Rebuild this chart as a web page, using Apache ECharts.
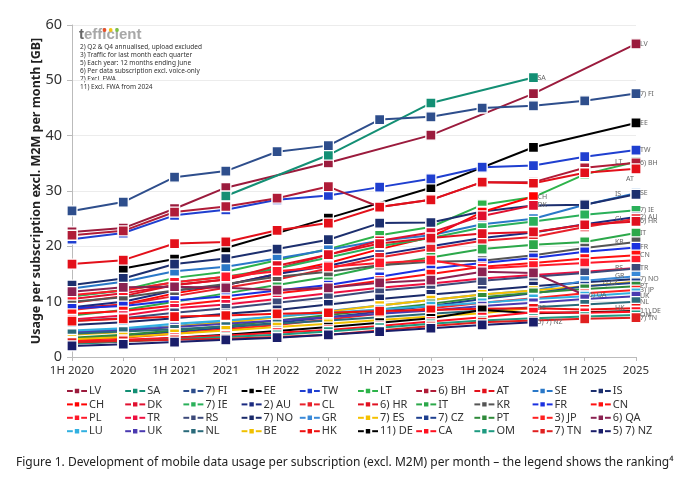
<!DOCTYPE html>
<html>
<head>
<meta charset="utf-8">
<script src="https://cdn.jsdelivr.net/npm/echarts@6/dist/echarts.min.js"></script>
<style>
  html, body { margin: 0; padding: 0; background: #fff; }
  #main { width: 680px; height: 487px; }
</style>
</head>
<body>
<div id="main"></div>
<script>
var myChart = echarts.init(document.getElementById('main'));

// periods on the x axis
var periods = ['1H 2020', '2020', '1H 2021', '2021', '1H 2022', '2022', '1H 2023', '2023', '1H 2024', '2024', '1H 2025', '2025'];

// GB per subscription per month (null = no value)
var LV = [22.6, 23.3, 26.8, 30.6, null, 35.1, null, 40.1, null, 47.6, null, 56.6];
var SA = [null, null, null, 29.1, null, 36.5, null, 45.9, null, 50.5];
var FI = [26.4, 28.0, 32.5, 33.6, 37.1, 38.2, 42.9, 43.4, 45.0, 45.4, 46.3, 47.6];
var EE = [null, 16.0, 17.7, 19.7, null, 25.1, null, 30.6, null, 37.9, null, 42.3];
var TW = [21.3, 22.4, 25.6, 26.6, 28.4, 29.2, 30.7, 32.2, 34.3, 34.6, 36.2, 37.4];
var LT = [11.0, 12.1, 14.3, 15.4, 17.5, 19.5, 22.0, 23.5, 27.5, 28.9, 33.0, 35.3];
var BH = [22.0, 22.8, 26.2, 27.2, 28.7, 30.8, 27.1, 28.4, 31.6, 31.6, 34.2, 35.1];
var AT = [16.8, 17.5, 20.5, 20.8, 22.9, 24.2, 27.1, 28.4, 31.6, 31.4, 33.3, 34.0];
var SE = [12.4, 13.6, 15.5, 16.3, 17.8, 19.4, 21.0, 22.0, 24.0, 25.0, 27.5, 29.6];
var IS = [13.0, 14.2, 16.8, 17.8, 19.5, 21.2, 24.2, 24.3, 26.3, 27.4, 27.5, 29.4];
var CH = [8.8, 9.5, 11.5, 13.0, 15.0, 17.0, 19.5, 21.7, 26.2, 29.0];
var DK = [10.5, 11.5, 13.0, 14.0, 16.0, 18.5, 21.0, 22.5, 25.5, 27.4];
var IE = [11.0, 12.0, 13.5, 14.5, 16.0, 18.0, 20.0, 21.5, 23.4, 24.5, 25.7, 26.5];
var AU = [9.0, 10.0, 12.0, 13.0, 15.0, 16.5, 18.5, 20.0, 21.5, 22.5, 24.0, 25.3];
var CL = [8.5, 9.5, 11.0, 12.5, 14.0, 16.0, 18.0, 19.5, 21.0, 21.7, 23.5, 25.0];
var HR = [9.8, 11.0, 13.0, 14.0, 16.5, 18.5, 20.5, 21.5, 22.3, 22.6, 23.9, 24.5];
var IT = [7.5, 8.5, 10.0, 11.5, 13.0, 14.5, 16.5, 18.0, 19.5, 20.3, 20.8, 22.4];
var KR = [10.0, 10.8, 12.0, 13.2, 14.5, 15.4, 16.6, 17.2, 17.4, 18.4, 19.7, 20.8];
var FR = [8.8, 9.2, 10.2, 11.0, 12.0, 13.0, 14.5, 16.0, 17.0, 17.9, 19.0, 19.8];
var CN = [7.8, 8.3, 9.3, 10.3, 11.5, 12.5, 13.8, 15.0, 16.3, 17.0, 17.8, 18.4];
var PL = [11.2, 12.0, 13.5, 14.5, 15.5, 16.3, 17.0, 17.5, 16.0, 16.5, 17.0, 17.5];
var TR = [6.8, 7.5, 8.8, 9.5, 10.5, 11.5, 12.5, 13.3, 14.2, 14.8, 15.4, 16.1];
var RS = [6.5, 7.0, 8.0, 8.8, 9.8, 10.8, 12.0, 12.8, 13.8, 14.5, 15.2, 16.0];
var NO = [5.8, 6.3, 7.0, 7.8, 8.5, 9.5, 10.5, 11.3, 12.0, 12.8, 13.5, 14.1];
var GR = [4.5, 5.0, 5.6, 6.4, 7.3, 8.3, 9.3, 10.3, 11.3, 12.0, 13.8, 14.6];
var ES = [4.0, 4.5, 5.5, 6.2, 7.2, 8.2, 9.3, 10.3, 11.3, 12.0, 12.8, 13.6];
var CZ = [3.3, 3.8, 4.5, 5.3, 6.2, 7.2, 8.2, 9.2, 10.5, 11.5, 12.8, 13.4];
var PT = [3.5, 4.0, 4.8, 5.6, 6.6, 7.6, 8.6, 9.6, 10.8, 11.6, 12.3, 12.8];
var JP = [3.0, 3.5, 4.2, 5.0, 5.8, 6.8, 7.8, 8.8, 9.8, 10.6, 11.5, 12.1];
var QA = [11.8, 12.6, 12.7, 12.5, 12.1, 12.5, 13.4, 13.9, 15.4, 15.2, 11.2];
var LU = [4.8, 5.2, 6.0, 6.6, 7.3, 8.0, 8.6, 9.2, 9.8, 10.5, 11.0, 11.6];
var UK = [4.4, 4.8, 5.4, 6.0, 6.6, 7.2, 7.8, 8.4, 9.2, 9.8, 10.5, 11.0];
var NL = [4.2, 4.6, 5.0, 5.5, 6.0, 6.6, 7.2, 7.8, 8.4, 9.0, 9.5, 10.0];
var BE = [3.2, 3.6, 4.2, 4.8, 5.4, 6.0, 6.7, 7.3, 7.9, 8.9];
var HK = [6.5, 6.9, 7.3, 7.5, 7.8, 8.0, 8.3, 8.5, 8.7, 8.8, 8.6, 8.8];
var DE = [2.5, 2.8, 3.5, 4.0, 4.7, 5.4, 6.2, 7.0, 8.5, 7.9, 8.1, 8.3];
var CA = [2.8, 3.1, 3.5, 3.9, 4.4, 4.9, 5.6, 6.4, 7.2, 8.1, 8.0, 8.2];
var OM = [2.4, 2.8, 3.2, 3.6, 4.0, 4.6, 5.3, 6.0, 6.6, 7.0, 7.3, 7.6];
var TN = [2.6, 2.9, 3.1, 3.3, 3.6, 4.0, 4.8, 5.6, 6.3, 6.6, 6.9, 7.1];
var NZ = [2.0, 2.3, 2.7, 3.1, 3.5, 4.0, 4.6, 5.2, 5.8, 6.3];

// legend order = ranking
var countries = [
  ['LV', LV, '#9b1b3d'], ['SA', SA, '#138f74'], ['7) FI', FI, '#2e4e8c'], ['EE', EE, '#000000'], ['TW', TW, '#1f3fd0'],
  ['LT', LT, '#2db34a'], ['6) BH', BH, '#b01c38'], ['AT', AT, '#e3101a'], ['SE', SE, '#2a78c8'], ['IS', IS, '#1c2f6e'],
  ['CH', CH, '#ff0000'], ['DK', DK, '#e0102f'], ['7) IE', IE, '#2ab05a'], ['2) AU', AU, '#1a2a80'], ['CL', CL, '#e8202a'],
  ['6) HR', HR, '#e01020'], ['IT', IT, '#2ca84a'], ['KR', KR, '#555555'], ['FR', FR, '#1a30e0'], ['CN', CN, '#ff1010'],
  ['PL', PL, '#ff1a2a'], ['TR', TR, '#ee1040'], ['RS', RS, '#3d4a7a'], ['7) NO', NO, '#1a2a6a'], ['GR', GR, '#3a8ad8'],
  ['7) ES', ES, '#f5c000'], ['7) CZ', CZ, '#1e3f8f'], ['PT', PT, '#2f8a3a'], ['3) JP', JP, '#ff2020'], ['6) QA', QA, '#8b2252'],
  ['LU', LU, '#31b0e0'], ['UK', UK, '#4a3ab0'], ['NL', NL, '#2a6a7a'], ['BE', BE, '#f0c000'], ['HK', HK, '#ee1010'],
  ['11) DE', DE, '#000000'], ['CA', CA, '#ff1020'], ['OM', OM, '#1e9a80'], ['7) TN', TN, '#e02020'], ['5) 7) NZ', NZ, '#1a1e6a']
];

// where the end label sits (none = no label in the picture)
var labelLeft = ['LT', 'IS', 'CL', 'KR', 'RS', 'GR', '7) CZ', 'HK'];
var labelNone = ['PL', 'LU', 'CA', '7) ES'];

var series = countries.map(function (c) {
  var name = c[0];
  var endLabel = {
    show: labelNone.indexOf(name) < 0,
    formatter: '{a}',
    fontSize: 7,
    color: '#666',
    distance: 4,
    fontFamily: 'Noto Sans'
  };
  if (labelLeft.indexOf(name) >= 0) {
    endLabel.offset = [-(name.length * 4.5 + 16), 0];
  }
  if (name === 'AT') {
    endLabel.offset = [-14, 10];
  }
  return {
    name: name,
    type: 'line',
    data: c[1],
    connectNulls: true,
    symbol: 'rect',
    symbolSize: 10,
    lineStyle: { width: 2, color: c[2] },
    itemStyle: { color: c[2], borderColor: '#fff', borderWidth: 1.3 },
    endLabel: endLabel,
    emphasis: { disabled: true }
  };
});

// legend: 10 columns x 4 rows
var legends = [];
for (var col = 0; col < 10; col++) {
  var items = [];
  for (var row = 0; row < 4; row++) {
    items.push(countries[row * 10 + col][0]);
  }
  legends.push({
    data: items,
    orient: 'vertical',
    left: 66 + col * 58.2,
    top: 385,
    itemWidth: 20,
    itemHeight: 8,
    itemGap: 1.4,
    padding: 0,
    selectedMode: false,
    textStyle: { fontSize: 11, color: '#333', lineHeight: 12, fontFamily: 'Noto Sans', padding: [0, 0, 0, -3] }
  });
}

var notes = [
  '2) Q2 & Q4 annualised, upload excluded',
  '3) Traffic for last month each quarter',
  '5) Each year: 12 months ending June',
  '6) Per data subscription excl. voice-only',
  '7) Excl. FWA',
  '11) Excl. FWA from 2024'
];

var option = {
  animation: false,
  backgroundColor: '#fff',
  textStyle: { fontFamily: 'Noto Sans' },
  title: {
    text: 'Figure 1. Development of mobile data usage per subscription (excl. M2M) per month \u2013 the legend shows the ranking\u2074',
    left: 11,
    top: 452,
    textStyle: { fontSize: 12, fontWeight: 'normal', color: '#222', fontFamily: 'Noto Sans' }
  },
  legend: legends,
  grid: { left: 72, right: 44, top: 25, bottom: 130 },
  xAxis: {
    type: 'category',
    data: periods,
    boundaryGap: false,
    axisLine: { lineStyle: { color: '#bbb' } },
    axisTick: { show: true, alignWithLabel: true, length: 4, lineStyle: { color: '#bbb' } },
    axisLabel: { fontSize: 11.5, color: '#333', margin: 8, interval: 0 }
  },
  yAxis: {
    type: 'value',
    min: 0,
    max: 60,
    interval: 10,
    name: 'Usage per subscription excl. M2M per month [GB]',
    nameLocation: 'middle',
    nameGap: 29,
    nameMoveOverlap: false,
    nameTextStyle: { fontSize: 12.5, fontWeight: 'bold', color: '#222' },
    axisLine: { show: true, lineStyle: { color: '#bbb' } },
    axisTick: { show: true, length: 5, lineStyle: { color: '#bbb' } },
    axisLabel: { fontSize: 14.5, color: '#333', margin: 10 },
    splitLine: { lineStyle: { color: '#ececec' } }
  },
  graphic: [
    {
      type: 'text', left: 79, top: 27,
      style: {
        text: '{t|t}{r|efficient}',
        fontFamily: 'Liberation Sans',
        rich: {
          t: { fontSize: 15, fontWeight: 'bold', fill: '#666', fontFamily: 'Liberation Sans' },
          r: { fontSize: 15, fontWeight: 'bold', fill: '#a8a8a8', fontFamily: 'Liberation Sans' }
        }
      }
    },
    { type: 'circle', shape: { cx: 104.5, cy: 30, r: 1.9 }, style: { fill: '#e8502a' } },
    { type: 'circle', shape: { cx: 110.7, cy: 30, r: 1.9 }, style: { fill: '#f2c318' } },
    { type: 'circle', shape: { cx: 117, cy: 30, r: 1.9 }, style: { fill: '#7cc242' } },
    {
      type: 'text', left: 80, top: 43,
      style: { text: notes.join('\n'), fontSize: 6.5, lineHeight: 8.1, fill: '#333', fontFamily: 'Noto Sans' }
    }
  ],
  series: series
};

myChart.setOption(option);
</script>
</body>
</html>
